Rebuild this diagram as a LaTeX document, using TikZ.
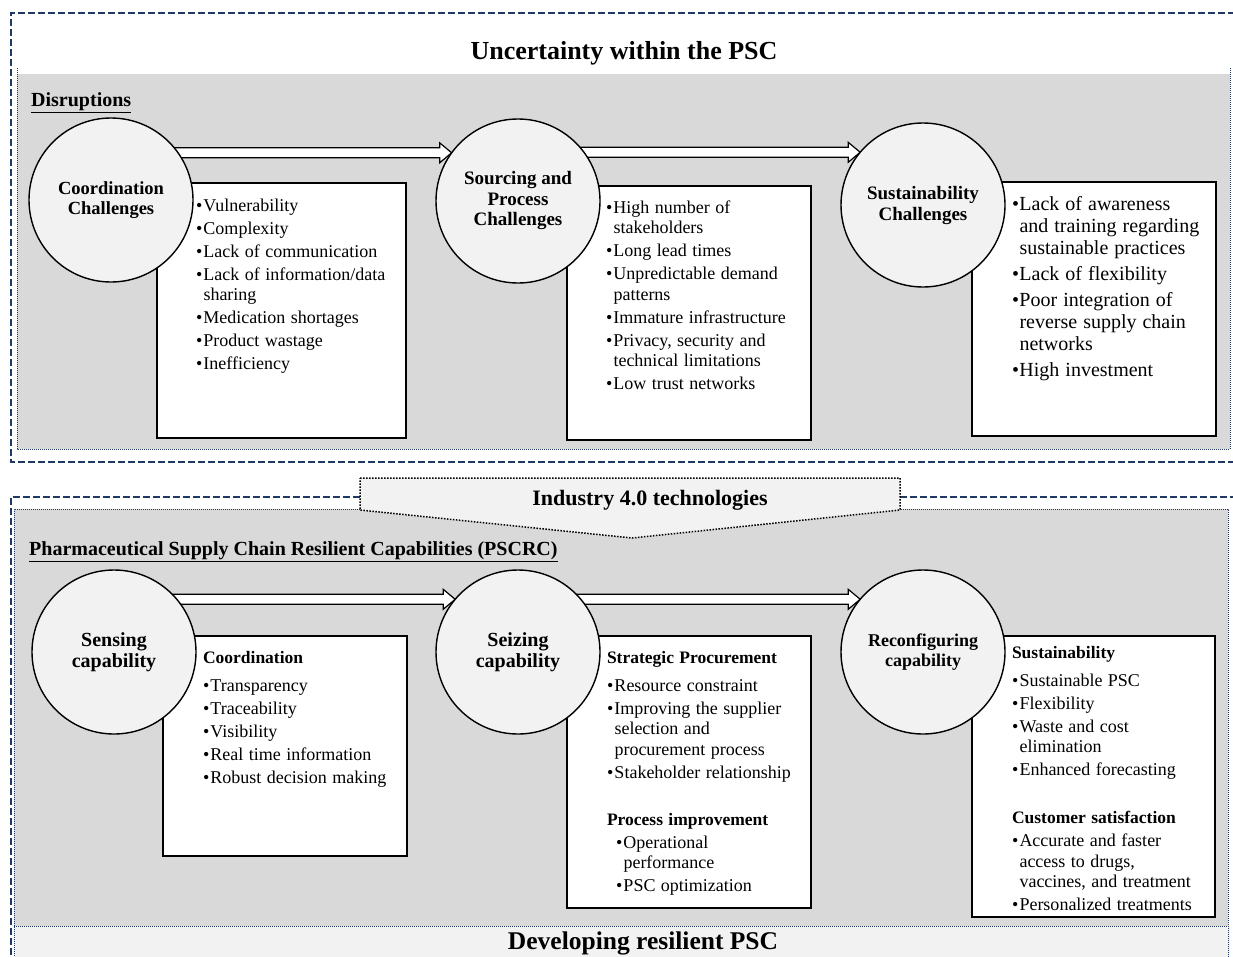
\documentclass[tikz,border=0pt]{standalone}
\usepackage{fontspec}
\setmainfont{Liberation Serif}
\usetikzlibrary{calc}
\definecolor{navy}{HTML}{1F3864}
\definecolor{grayfill}{HTML}{D9D9D9}
\definecolor{lightfill}{HTML}{F2F2F2}
\pgfdeclarelayer{bg}
\pgfsetlayers{bg,main}
\newlength\bw \setlength\bw{7.5pt}
\newcommand\bitem[1]{\par\noindent\hangindent=\bw\hangafter=1\makebox[\bw][l]{•}#1\par}
\newcommand\bhead[1]{\par\noindent{\bfseries\fontsize{17.5}{20.5}\selectfont #1\par}}
\newcommand\blist[4]{\parbox[t]{250pt}{\fontsize{#1}{#2}\selectfont\spaceskip=0.3em plus 0.1em minus 0.05em\setlength\parskip{#3}\setlength\parindent{0pt}\rightskip=0pt plus 1fil\relax #4}}
\newcommand\cf[2]{\bfseries\fontsize{#1}{#2}\selectfont}
\newcommand\hollowarrow[2]{%
  \path[hollow] let \p1=(#1), \p2=(#2) in
    (\x1,\y2+5pt) -- (\x2-12pt,\y2+5pt) -- (\x2-12pt,\y2+10pt) -- (\x2,\y2)
    -- (\x2-12pt,\y2-10pt) -- (\x2-12pt,\y2-5pt) -- (\x1,\y2-5pt) -- cycle;}
\tikzset{
  circ/.style={circle, draw, line width=1.4pt, fill=lightfill, minimum size=164pt,
    inner sep=0pt, outer sep=0pt, align=center},
  txtbox/.style={draw, line width=1.8pt, fill=white, anchor=north west, inner sep=0pt, outer sep=0pt},
  listtext/.style={anchor=base west, inner sep=0pt, outer sep=0pt},
  outerdash/.style={draw=navy, line width=2.2pt, dash pattern=on 7pt off 3pt},
  dotframe/.style={draw=navy, line width=1pt, dash pattern=on 1pt off 1pt},
  banner/.style={draw=black, fill=lightfill, line width=1.5pt, dash pattern=on 1.5pt off 1.5pt},
  hollow/.style={draw, fill=white, line width=1.2pt, line join=miter},
  heading/.style={anchor=west, inner sep=0pt, font={\cf{20}{24}}},
}
\begin{document}
\begin{tikzpicture}[x=1pt,y=-1pt]
\useasboundingbox (0,0) rectangle (1233,956);

% circles (main layer)
\node[circ, font={\cf{18.5}{20.5}}] (c1) at (111,200) {Coordination\\Challenges};
\node[circ, font={\cf{19}{20.5}}] (c2) at (518,201) {Sourcing and\\Process\\Challenges};
\node[circ, font={\cf{19}{21}}] (c3) at (923,205) {Sustainability\\Challenges};
\node[circ, font={\cf{20}{21}}] (c4) at (114,652) {Sensing\\capability};
\node[circ, font={\cf{20}{21}}] (c5) at (518,652) {Seizing\\capability};
\node[circ, font={\cf{18}{19.5}}] (c6) at (923,652) {Reconfiguring\\capability};

\begin{pgfonlayer}{bg}
  \fill[white] (0,0) rectangle (1233,956);
  % top panel
  \fill[grayfill] (17,74) rectangle (1230,449);
  \draw[dotframe] (17,68) -- (17,449) -- (1230,449) -- (1230,68);
  % bottom panel
  \fill[grayfill] (14,509) rectangle (1228,926);
  \fill[lightfill] (14,926) rectangle (1230,970);
  \draw[dotframe] (14,970) -- (14,509) -- (1228,509) -- (1228,970);
  \draw[dotframe] (14,926) -- (1230,926);
  % outer dashed frames
  \draw[outerdash] (1245,13) -- (11,13) -- (11,462) -- (1245,462);
  \draw[outerdash] (360,497) -- (11,497) -- (11,970);
  \draw[outerdash] (900,497) -- (1245,497);
  % boxes
  \node[txtbox, minimum width=249pt, minimum height=255pt] (b1) at (157,183) {};
  \node[txtbox, minimum width=244pt, minimum height=254pt] (b2) at (567,186) {};
  \node[txtbox, minimum width=244pt, minimum height=254pt] (b3) at (972,182) {};
  \node[txtbox, minimum width=244pt, minimum height=220pt] (b4) at (163,636) {};
  \node[txtbox, minimum width=244pt, minimum height=272pt] (b5) at (567,636) {};
  \node[txtbox, minimum width=243pt, minimum height=281pt] (b6) at (972,636) {};
  % arrows
  \hollowarrow{c1.center}{c2.144}
  \hollowarrow{c2.center}{c3.140}
  \hollowarrow{c4.center}{c5.140}
  \hollowarrow{c5.center}{c6.140}
\end{pgfonlayer}

% banner
\draw[banner] (360,478) -- (900,478) -- (900,510) -- (632,538) -- (360,510) -- cycle;
\node[font={\cf{22}{26}}] (ind) at (650,500) {Industry 4.0 technologies};

% titles and headings
\node[font={\cf{26}{30}}] (t1) at (624,53) {Uncertainty within the PSC};
\node[font={\cf{25.5}{30}}] (t2) at (643,943) {Developing resilient PSC};
\node[heading] (h1) at (31,103) {\underline{Disruptions}};
\node[heading] (h2) at (29,552) {\underline{Pharmaceutical Supply Chain Resilient Capabilities (PSCRC)}};

% box texts
\node[listtext] (b1t) at (196,211) {\blist{18}{20.5}{2.5pt}{%
  \bitem{Vulnerability}
  \bitem{Complexity}
  \bitem{Lack of communication}
  \bitem{Lack of information/data\newline sharing}
  \bitem{Medication shortages}
  \bitem{Product wastage}
  \bitem{Inefficiency}}};

\node[listtext] (b2t) at (606,213) {\blist{18}{20.5}{2.5pt}{%
  \bitem{High number of\newline stakeholders}
  \bitem{Long lead times}
  \bitem{Unpredictable demand\newline patterns}
  \bitem{Immature infrastructure}
  \bitem{Privacy, security and\newline technical limitations}
  \bitem{Low trust networks}}};

\node[listtext] (b3t) at (1012,210) {\blist{20}{22}{4pt}{%
  \bitem{Lack of awareness\newline and training regarding\newline sustainable practices}
  \bitem{Lack of flexibility}
  \bitem{Poor integration of\newline reverse supply chain\newline networks}
  \bitem{High investment}}};

\node[listtext] (b4t) at (203,663) {\blist{18}{20.5}{2.5pt}{%
  \bhead{Coordination}\vspace{5pt}
  \bitem{Transparency}
  \bitem{Traceability}
  \bitem{Visibility}
  \bitem{Real time information}
  \bitem{Robust decision making}}};

\node[listtext] (b5t) at (607,663) {\blist{18}{20.5}{2.5pt}{%
  \bhead{Strategic Procurement}\vspace{5pt}
  \bitem{Resource constraint}
  \bitem{Improving the supplier\newline selection and\newline procurement process}
  \bitem{Stakeholder relationship}
  \vspace{24pt}
  \bhead{Process improvement}
  {\leftskip=9pt
  \bitem{Operational\newline performance}
  \bitem{PSC optimization}}}};

\node[listtext] (b6t) at (1012,658) {\blist{18}{20.5}{2.5pt}{%
  \bhead{Sustainability}\vspace{5pt}
  \bitem{Sustainable PSC}
  \bitem{Flexibility}
  \bitem{Waste and cost\newline elimination}
  \bitem{Enhanced forecasting}
  \vspace{25pt}
  \bhead{Customer satisfaction}
  \bitem{Accurate and faster\newline access to drugs,\newline vaccines, and treatment}
  \bitem{Personalized treatments}}};
\end{tikzpicture}
\end{document}
